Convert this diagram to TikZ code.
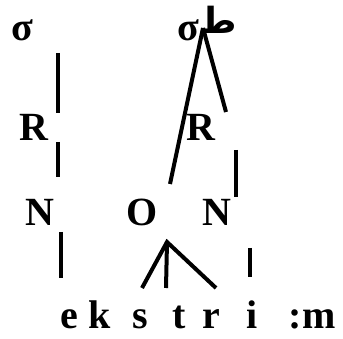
\documentclass[tikz,border=0pt]{standalone}
\usepackage{fontspec}
\setmainfont{Liberation Serif}
\newfontfamily\arabicfont[Script=Arabic]{DejaVu Sans}
\TeXXeTstate=1
\begin{document}
\begin{tikzpicture}[x=1pt,y=-1pt,
  lbl/.style={inner sep=0pt,font=\fontsize{40}{42}\selectfont\bfseries},
  seg/.style={line width=4pt}]
\useasboundingbox (0,0) rectangle (343,339);
% labels
\node[lbl] (s1) at (22,30) {σ};
\node[lbl] (s2) at (188,30) {σ};
\node[inner sep=0pt,font=\fontsize{36}{38}\selectfont\arabicfont\bfseries] (ta) at (218,20) {\beginR ط\endR};
\node[lbl] (R1) at (34,127) {R};
\node[lbl] (R2) at (201,127) {R};
\node[lbl] (N1) at (40,212) {N};
\node[lbl] (O) at (142,212) {O};
\node[lbl] (N2) at (217,212) {N};
\node[lbl,anchor=base] (e) at (69,329) {e};
\node[lbl,anchor=base] (k) at (100,329) {k};
\node[lbl,anchor=base] (s) at (140,329) {s};
\node[lbl,anchor=base] (t) at (179,329) {t};
\node[lbl,anchor=base] (r) at (211,329) {r};
\node[lbl,anchor=base] (i) at (252,329) {i};
\node[lbl,anchor=base] (m) at (312,329) {:m};
% connector end points
\coordinate (a1) at (58,53);
\coordinate (a2) at (58,113);
\coordinate (b1) at (58,142);
\coordinate (b2) at (58,177);
\coordinate (c1) at (61,232);
\coordinate (c2) at (61,278);
\coordinate (top) at (203,28);
\coordinate (d1) at (170,184);
\coordinate (d2) at (226,112);
\coordinate (f1) at (236,150);
\coordinate (f2) at (236,197);
\coordinate (ap) at (167,242);
\coordinate (g1) at (142,288);
\coordinate (g2) at (166,288);
\coordinate (g3) at (216,288);
\coordinate (h1) at (250,248);
\coordinate (h2) at (250,277);
% connectors
\draw[seg] (a1) -- (a2);
\draw[seg] (b1) -- (b2);
\draw[seg] (c1) -- (c2);
\draw[seg] (top) -- (d1);
\draw[seg] (top) -- (d2);
\draw[seg] (f1) -- (f2);
\draw[seg] (g1) -- (ap) -- (g3);
\draw[seg] (ap) -- (g2);
\draw[seg] (h1) -- (h2);
\end{tikzpicture}
\end{document}
